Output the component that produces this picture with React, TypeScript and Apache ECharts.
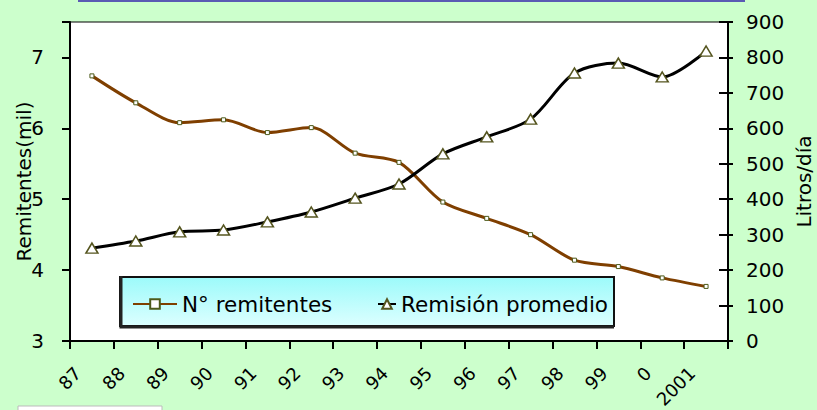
import React, { useEffect, useRef } from "react";
import * as echarts from "echarts";

const categories = ["87", "88", "89", "90", "91", "92", "93", "94", "95", "96", "97", "98", "99", "0", "2001"];
const remitentes = [6.74, 6.36, 6.08, 6.12, 5.94, 6.01, 5.65, 5.52, 4.96, 4.73, 4.5, 4.14, 4.05, 3.89, 3.77];
const remision = [262, 282, 308, 313, 336, 364, 403, 443, 528, 576, 626, 756, 784, 745, 818];
const leftTicks = [3, 4, 5, 6, 7];
const seriesNames = ["N° remitentes", "Remisión promedio"];

const FONT = "DejaVu Sans";

export default function App() {
  const ref = useRef<HTMLDivElement>(null);
  useEffect(() => {
    if (!ref.current) return;
    const chart = echarts.init(ref.current, undefined, { renderer: "svg" });
    const option: any = {
      animation: false,
      backgroundColor: "#ccffcc",
      textStyle: { fontFamily: FONT },
      grid: {
        left: 70,
        right: 89,
        top: 22,
        bottom: 69,
        containLabel: false,
        outerBoundsMode: "none",
        show: true,
        backgroundColor: "#ffffff",
        borderColor: "#000",
        borderWidth: 1,
      },
      graphic: [
        {
          type: "rect",
          z: 1,
          shape: { x: 79, y: -20, width: 665, height: 21 },
          style: { fill: "#ccccff", stroke: "#5a5ab4", lineWidth: 2 },
        },
        {
          type: "rect",
          z: 1,
          shape: { x: 18, y: 406, width: 144, height: 10 },
          style: { fill: "#ffffff", stroke: "#bbbbbb", lineWidth: 1 },
        },
        {
          type: "rect",
          z: 5,
          shape: { x: 120, y: 277, width: 494, height: 49 },
          style: {
            fill: new echarts.graphic.LinearGradient(0, 0, 0, 1, [
              { offset: 0, color: "#9cfafa" },
              { offset: 1, color: "#dcffff" },
            ]),
            stroke: "#111",
            lineWidth: 2,
          },
        },
        {
          type: "polyline",
          z: 5,
          shape: { points: [[121, 276], [121, 327], [614, 327]] },
          style: { stroke: "#222", lineWidth: 3, fill: null },
        },
      ],
      legend: [
        {
          data: [seriesNames[0]],
          left: 132,
          top: 292,
          padding: 0,
          z: 10,
          itemWidth: 44,
          itemHeight: 12,
          textStyle: { fontFamily: FONT, fontSize: 21.5, lineHeight: 24, color: "#000" },
        },
        {
          data: [seriesNames[1]],
          left: 377,
          top: 292,
          padding: 0,
          z: 10,
          itemWidth: 18,
          itemHeight: 12,
          textStyle: { fontFamily: FONT, fontSize: 21.5, lineHeight: 24, color: "#000" },
        },
      ],
      xAxis: {
        type: "category",
        data: categories,
        boundaryGap: true,
        axisLine: { show: true, onZero: false, lineStyle: { color: "#000", width: 2 } },
        axisTick: { show: true, interval: 0, length: 8, lineStyle: { color: "#000", width: 2 } },
        axisLabel: {
          interval: 0,
          rotate: 45,
          margin: 15,
          padding: [0, 20, 0, 0],
          fontSize: 18,
          fontFamily: FONT,
          color: "#000",
        },
        splitLine: { show: false },
      },
      yAxis: [
        {
          type: "value",
          position: "left",
          min: 3,
          max: 7.5,
          interval: 1,
          name: "Remitentes(mil)",
          nameLocation: "middle",
          nameRotate: 90,
          nameGap: 36,
          nameMoveOverlap: false,
          nameTextStyle: { fontFamily: FONT, fontSize: 20, color: "#000" },
          axisLine: { show: true, onZero: false, lineStyle: { color: "#000", width: 2 } },
          axisTick: { show: true, length: 8, lineStyle: { color: "#000", width: 2 } },
          axisLabel: { customValues: leftTicks, margin: 26, fontSize: 20, fontFamily: FONT, color: "#000" },
          splitLine: { show: false },
        },
        {
          type: "value",
          position: "right",
          min: 0,
          max: 900,
          interval: 100,
          name: "Litros/día",
          nameLocation: "middle",
          nameRotate: 90,
          nameGap: 66,
          nameMoveOverlap: false,
          nameTextStyle: { fontFamily: FONT, fontSize: 20, color: "#000" },
          axisLine: { show: true, onZero: false, lineStyle: { color: "#000", width: 2 } },
          axisTick: { show: true, length: 5, lineStyle: { color: "#000", width: 2 } },
          axisLabel: { margin: 18, fontSize: 20, fontFamily: FONT, color: "#000" },
          splitLine: { show: false },
        },
        {
          type: "value",
          position: "right",
          min: 0,
          max: 900,
          interval: 100,
          axisLine: { show: false, onZero: false },
          axisTick: { show: true, inside: true, length: 9, lineStyle: { color: "#000", width: 2 } },
          axisLabel: { show: false },
          splitLine: { show: false },
        },
      ],
      series: [
        {
          name: seriesNames[0],
          type: "line",
          yAxisIndex: 0,
          data: remitentes,
          smooth: 0.3,
          symbol: "rect",
          symbolSize: 4,
          lineStyle: { color: "#7f3f00", width: 3 },
          itemStyle: { color: "#ffffff", borderColor: "#4d5a1a", borderWidth: 1 },
          z: 3,
        },
        {
          name: seriesNames[1],
          type: "line",
          yAxisIndex: 1,
          data: remision,
          smooth: 0.3,
          symbol: "triangle",
          symbolSize: [12, 10],
          lineStyle: { color: "#000000", width: 3 },
          itemStyle: { color: "#ffffff", borderColor: "#55551f", borderWidth: 1.5 },
          z: 4,
        },
      ],
    };
    chart.setOption(option);
    return () => chart.dispose();
  }, []);
  return (
    <div
      ref={ref}
      style={{ position: "fixed", left: 0, top: 0, width: 817, height: 410 }}
    />
  );
}
